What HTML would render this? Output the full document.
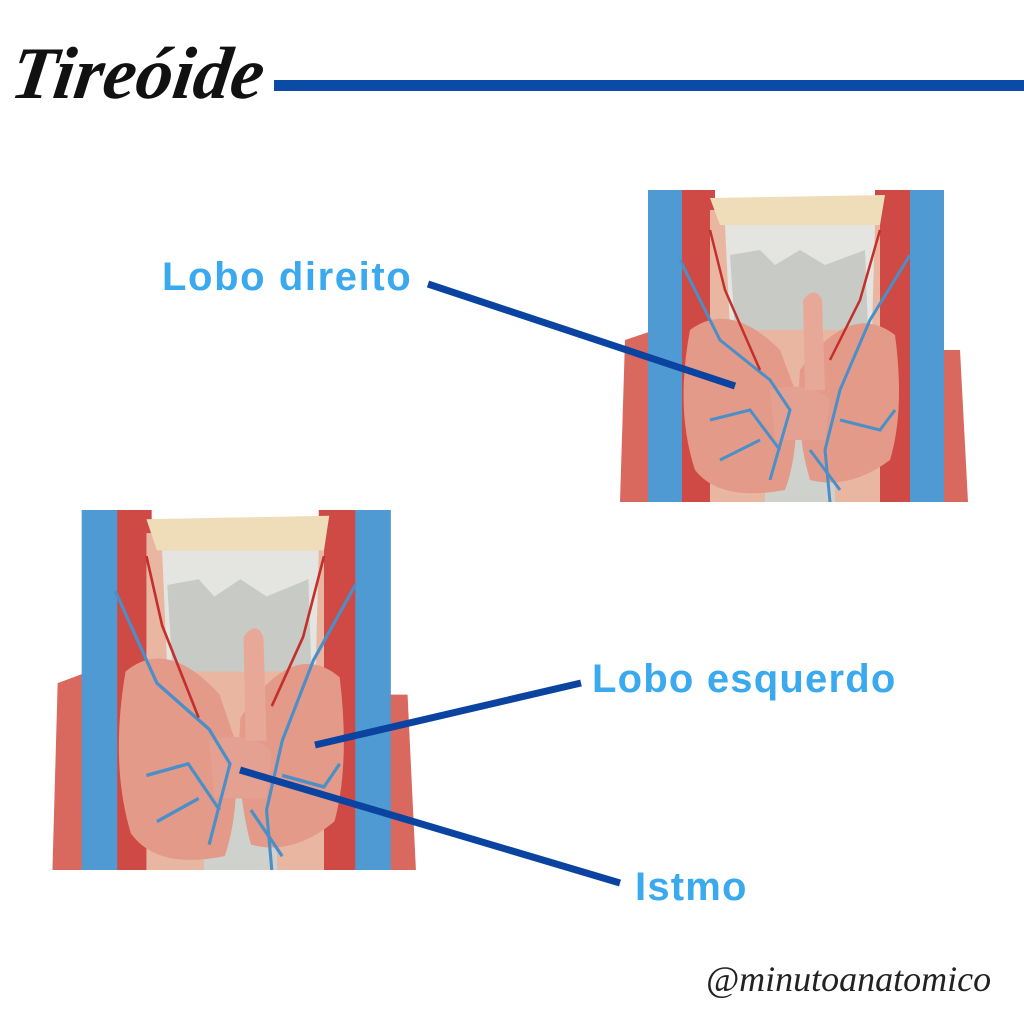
<!DOCTYPE html>
<html><head><meta charset="utf-8"><style>
body{margin:0;width:1024px;height:1024px;background:#fff;position:relative;overflow:hidden;font-family:"Liberation Sans",sans-serif}
.t{position:absolute;white-space:nowrap}
.lbl{color:#3aa9ee;font-weight:bold;font-size:40px;letter-spacing:1.2px}
svg.img{position:absolute}
</style></head><body>
<div class="t" style="left:12px;top:32px;font-family:'Liberation Serif',serif;font-style:italic;font-weight:bold;font-size:74px;color:#111;transform:skewX(-8deg)">Tireóide</div>
<div style="position:absolute;left:274px;top:80px;width:750px;height:11px;background:#0a4ba8"></div>

<svg width="0" height="0" style="position:absolute">
<defs>
<g id="neck">
<rect width="360" height="312" fill="#fff"/>
<path d="M15 150 L45 140 L45 312 L10 312 Z" fill="#d9685e"/>
<path d="M320 160 L350 160 L358 312 L318 312 Z" fill="#d9685e"/>
<rect x="70" y="0" width="35" height="312" fill="#cf4a44"/>
<rect x="265" y="0" width="38" height="312" fill="#cf4a44"/>
<rect x="100" y="20" width="170" height="292" fill="#e9b6a2"/>
<path d="M100 8 L275 5 L270 35 L110 35 Z" fill="#efdcb8"/>
<path d="M115 35 L265 35 L262 140 L120 140 Z" fill="#e4e4e0"/>
<path d="M120 65 L150 60 L165 75 L190 60 L215 75 L255 60 L258 140 L125 140 Z" fill="#c8cac6"/>
<rect x="155" y="240" width="70" height="72" fill="#cfd2cc"/>
<path d="M80 140 Q120 110 170 160 L185 200 Q190 260 175 300 Q110 312 85 280 Q65 220 80 140 Z" fill="#e49a88"/>
<path d="M190 180 Q240 110 285 145 Q295 220 280 270 Q240 300 200 290 Q185 240 190 180 Z" fill="#e49a88"/>
<path d="M160 200 Q200 190 220 210 L215 250 L165 250 Z" fill="#e4a090"/>
<path d="M193 110 Q205 95 212 110 L215 200 L195 200 Z" fill="#e8a898"/>
<rect x="38" y="0" width="34" height="312" fill="#4f9ad3"/>
<rect x="300" y="0" width="34" height="312" fill="#4f9ad3"/>
<g stroke="#4a8fc8" stroke-width="3" fill="none">
<path d="M70 70 L110 150 L160 190 L180 220 L160 290"/>
<path d="M300 65 L260 130 L230 200 L215 260 L220 312"/>
<path d="M100 230 L140 220 L170 260"/><path d="M110 270 L150 250"/>
<path d="M230 230 L270 240 L285 220"/><path d="M200 260 L230 300"/>
</g>
<g stroke="#c3302c" stroke-width="2.5" fill="none">
<path d="M100 40 L115 100 L150 180"/><path d="M270 40 L250 110 L220 170"/>
</g>
</g>
</defs>
</svg>

<svg class="img" style="left:610px;top:190px" width="360" height="312" viewBox="0 0 360 312"><use href="#neck"/></svg>
<svg class="img" style="left:42px;top:510px" width="376" height="360" viewBox="0 0 360 312" preserveAspectRatio="none"><use href="#neck"/></svg>

<svg style="position:absolute;left:0;top:0" width="1024" height="1024">
<g stroke="#0a44a0" stroke-width="7" stroke-linecap="butt">
<line x1="428" y1="284" x2="735" y2="386"/>
<line x1="581" y1="683" x2="315" y2="745"/>
<line x1="620" y1="883" x2="240" y2="770"/>
</g>
</svg>

<div class="t lbl" style="left:162px;top:255px;font-size:40px;letter-spacing:1.6px">Lobo direito</div>
<div class="t lbl" style="left:592px;top:657px">Lobo esquerdo</div>
<div class="t lbl" style="left:635px;top:865px">Istmo</div>
<div class="t" style="left:706px;top:958px;font-family:'Liberation Serif',serif;font-style:italic;font-size:36px;color:#222">@minutoanatomico</div>
</body></html>
